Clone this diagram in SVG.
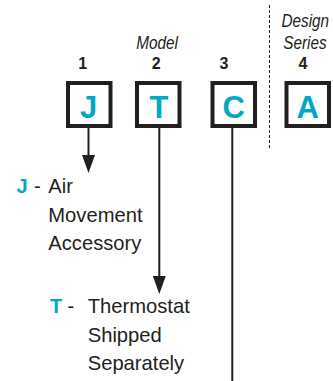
<svg xmlns="http://www.w3.org/2000/svg" width="333" height="381" viewBox="0 0 333 381">
<style>
.box{fill:#fff;stroke:#231f20;stroke-width:4}
.code{font-family:"Liberation Sans",Arial,sans-serif;font-weight:bold;font-size:31px;fill:#00a8c6;text-anchor:middle}
.num{font-family:"Liberation Sans",Arial,sans-serif;font-weight:bold;font-size:16px;fill:#231f20;text-anchor:middle}
.hdr{font-family:"Liberation Sans",Arial,sans-serif;font-style:italic;font-size:18px;fill:#231f20}
.body{font-family:"Liberation Sans",Arial,sans-serif;font-size:20.2px;fill:#231f20}
.key{font-family:"Liberation Sans",Arial,sans-serif;font-weight:bold;font-size:20px;fill:#00a8c6}
.conn{stroke:#231f20;stroke-width:2;fill:none}
</style>
<defs>
<marker id="arr" markerUnits="userSpaceOnUse" markerWidth="18" markerHeight="13" refX="0" refY="6.5" orient="auto" viewBox="0 0 18 13">
<path d="M0,0 L18,6.5 L0,13 Z" fill="#231f20"/>
</marker>
</defs>
<g id="headers">
<text class="hdr" transform="translate(136.2,48.5) scale(0.85,1)">Model</text>
<text class="hdr" transform="translate(281.5,27) scale(0.85,1)">Design</text>
<text class="hdr" transform="translate(283.3,48.5) scale(0.85,1)">Series</text>
<text class="num" x="82.7" y="68.5">1</text>
<text class="num" x="156.3" y="68.5">2</text>
<text class="num" x="224" y="68.5">3</text>
<text class="num" x="303" y="68.5">4</text>
</g>
<line id="divider" x1="269.5" y1="5" x2="269.5" y2="150" stroke="#231f20" stroke-width="1" stroke-dasharray="3,2"/>
<g id="connectors">
<line class="conn" x1="88.5" y1="128" x2="88.5" y2="155" marker-end="url(#arr)"/>
<line class="conn" x1="159.3" y1="128" x2="159.3" y2="276" marker-end="url(#arr)"/>
<line class="conn" x1="232.3" y1="128" x2="232.3" y2="381"/>
</g>
<g id="node-J">
<rect class="box" x="68" y="83" width="42.5" height="43"/>
<text class="code" x="88.5" y="117.5">J</text>
</g>
<g id="node-T">
<rect class="box" x="137" y="83" width="42.5" height="43"/>
<text class="code" x="159" y="117.5">T</text>
</g>
<g id="node-C">
<rect class="box" x="212.5" y="83" width="42.5" height="43"/>
<text class="code" x="233.8" y="117.5">C</text>
</g>
<g id="node-A">
<rect class="box" x="286.5" y="83" width="42.5" height="43"/>
<text class="code" x="307.6" y="117.5">A</text>
</g>
<g id="legend-J">
<text class="key" x="16.5" y="193">J</text>
<text class="body" x="34" y="193">-</text>
<text class="body" x="48.3" y="193">Air</text>
<text class="body" x="48.3" y="221.5">Movement</text>
<text class="body" x="48.3" y="249.5">Accessory</text>
</g>
<g id="legend-T">
<text class="key" x="50" y="313.3">T</text>
<text class="body" x="67.5" y="313.3">-</text>
<text class="body" x="87.7" y="313.3">Thermostat</text>
<text class="body" x="87.7" y="341.7">Shipped</text>
<text class="body" x="87.7" y="370">Separately</text>
</g>
</svg>
